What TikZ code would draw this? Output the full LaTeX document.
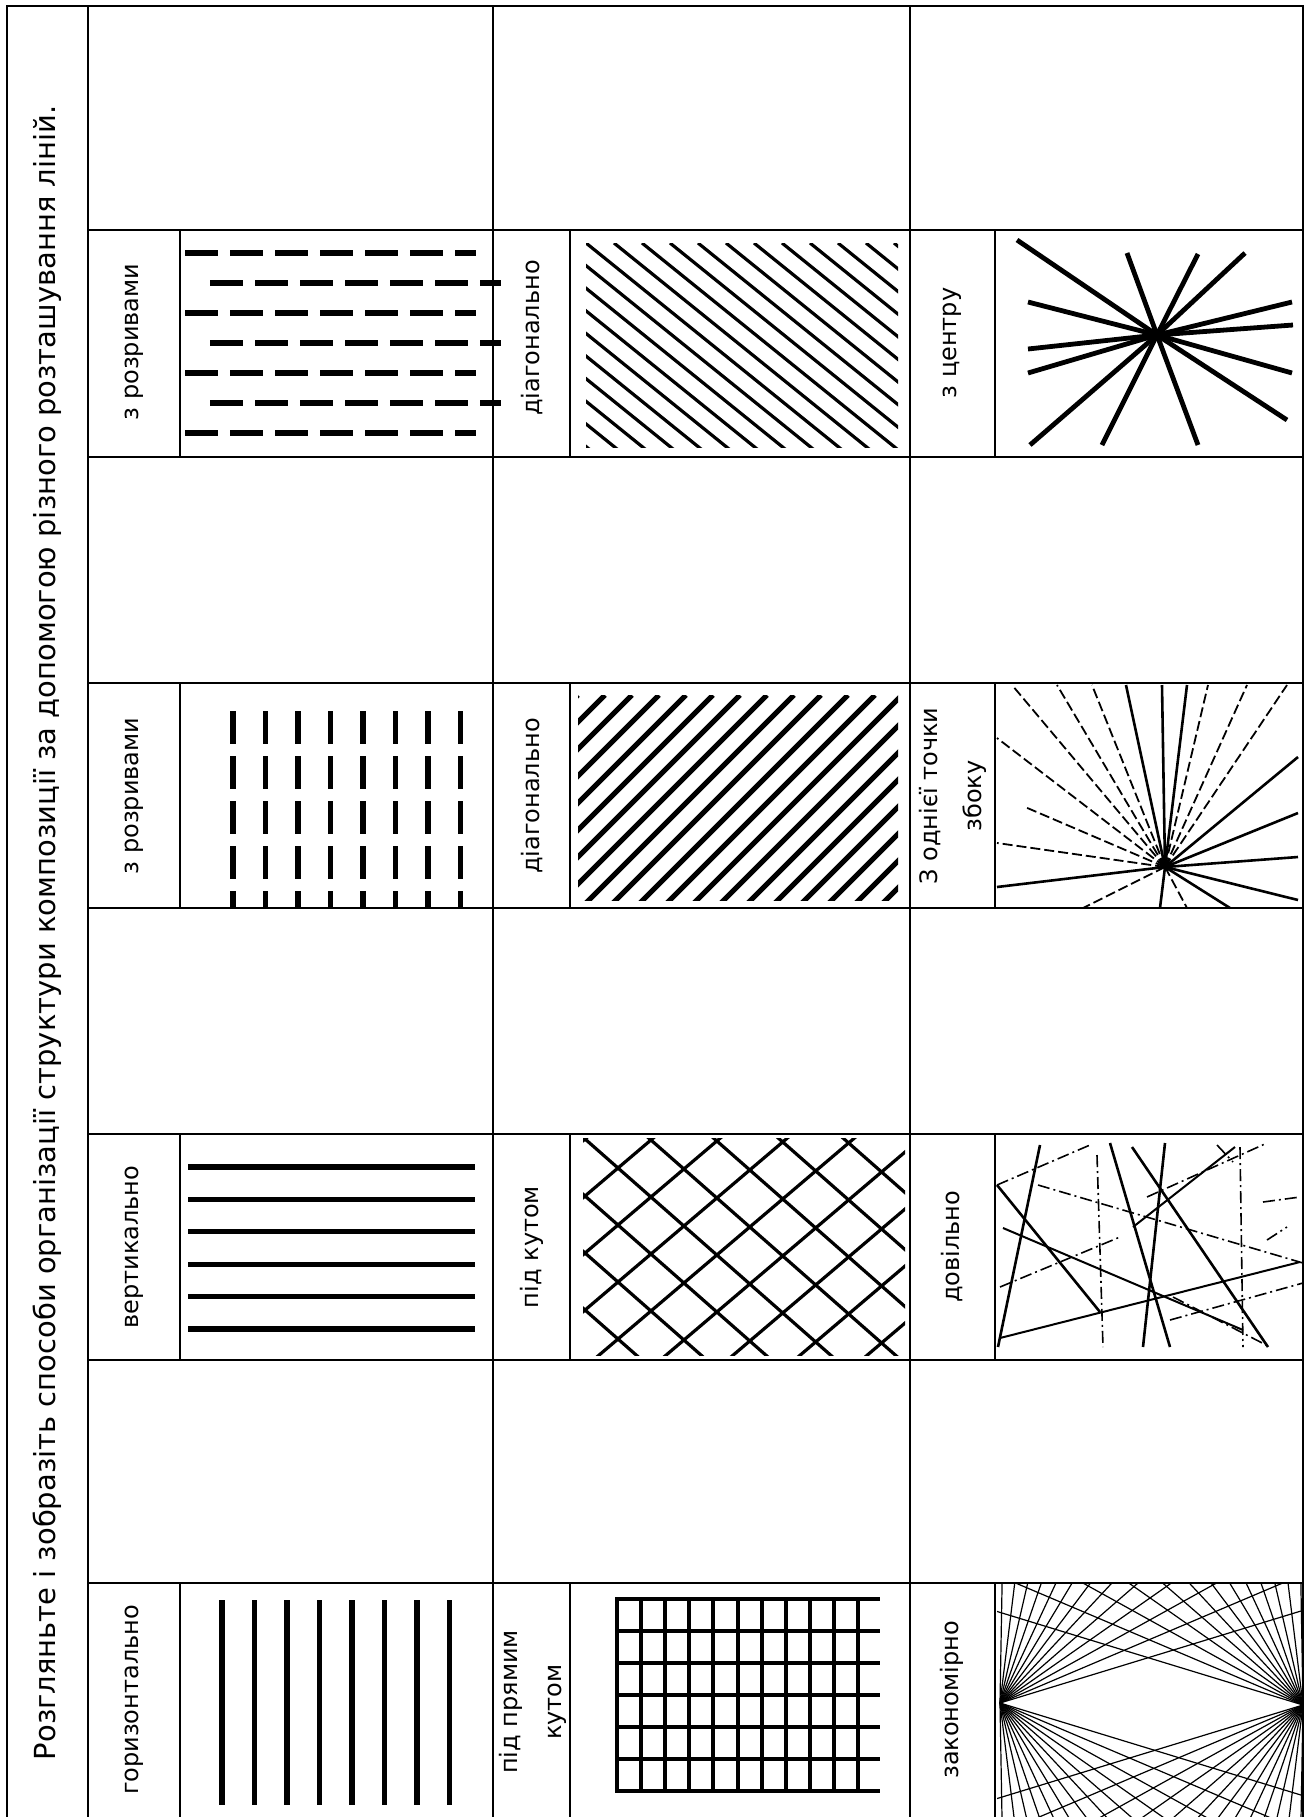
\documentclass[tikz,border=0pt]{standalone}
\usepackage{fontspec}
\setmainfont{DejaVu Sans}
\usetikzlibrary{positioning}
\tikzset{
  frame/.style={draw=black, line width=1.1pt},
  lbl/.style={rotate=90, align=center, inner sep=0pt, font=\fontsize{12}{22}\selectfont},
  ttl/.style={rotate=90, inner sep=0pt, font=\fontsize{14.5}{17}\selectfont},
  % візерунки
  bar/.style={draw=black, line width=2.6pt},
  dashbar/.style={draw=black, line width=2.8pt, dash pattern=on 16.5pt off 6pt},
  mesh/.style={draw=black, line width=2pt},
  hatch/.style={draw=black, line width=1.6pt},
  ray/.style={draw=black, line width=2.4pt},
  fan/.style={draw=black, line width=0.6pt},
  solidray/.style={draw=black, line width=1.3pt},
  brokenray/.style={draw=black, line width=0.9pt, dash pattern=on 5pt off 2pt},
  loose/.style={draw=black, line width=0.8pt, dash pattern=on 6pt off 2pt on 1pt off 2pt}
}
\begin{document}
\begin{tikzpicture}[x=0.5pt, y=-0.5pt, line cap=butt]
  \useasboundingbox (0,0) rectangle (1306,1817);

  % рамка таблиці
  \draw[frame] (7,1817) -- (7,6) -- (1303,6) -- (1303,1817);
  \foreach \x in {88,493,910} \draw[frame] (\x,6) -- (\x,1817);
  \foreach \y in {230,457,683,908,1134,1360,1583} \draw[frame] (88,\y) -- (1303,\y);
  \foreach \ya/\yb in {230/457,683/908,1134/1360,1583/1817}
    \foreach \x in {180,570,995} \draw[frame] (\x,\ya) -- (\x,\yb);

  \node[ttl] (title) at (47,933) {Розгляньте і зобразіть способи організації структури композиції за допомогою різного розташування ліній.};

  % підписи
  \node[lbl] (hor) at (134,1700) {горизонтально};
  \node[lbl] (vert) at (134,1247) {вертикально};
  \node[lbl] (gapv) at (134,796) {з розривами};
  \node[lbl] (gaph) at (134,342) {з розривами};
  \node[lbl] (rightang) at (533,1702) {під прямим\\кутом};
  \node[lbl] (angled) at (532,1247) {під кутом};
  \node[lbl] (diagb) at (532,796) {діагонально};
  \node[lbl] (diaga) at (532,338) {діагонально};
  \node[lbl] (regular) at (952,1700) {закономірно};
  \node[lbl] (random) at (952,1247) {довільно};
  \node[lbl] (side) at (953,796) {З однієї точки\\збоку};
  \node[lbl] (centre) at (952,343) {з центру};

  % горизонтально / вертикально
  \foreach \i in {0,...,7} \draw[bar] ({222+32.5*\i},1600) -- ++(0,205);
  \foreach \i in {0,...,5} \draw[bar] (188,{1167+32.4*\i}) -- (475,{1167+32.4*\i});

  % з розривами
  \begin{scope}
    \clip (180,683) rectangle (493,908);
    \foreach \i in {0,...,7} \draw[dashbar] ({233+32.5*\i},711) -- ++(0,200);
  \end{scope}
  \foreach \i/\xs in {0/185,1/210,2/185,3/210,4/185,5/210,6/185}
    \draw[dashbar] (\xs,{253+30*\i}) -- ++(291,0);

  % під прямим кутом
  \foreach \i in {0,...,10} \draw[mesh] ({617+24.1*\i},1599) -- ++(0,192);
  \foreach \i in {0,...,6} \draw[mesh] (615,{1599+32*\i}) -- (880,{1599+32*\i});

  % під кутом
  \begin{scope}
    \clip (583,1138) rectangle (905,1355);
    \foreach \k in {-6,...,8} {
      \draw[hatch] (560,{1168+0.85*58+57*\k}) -- (920,{1168-0.85*302+57*\k});
      \draw[hatch] (560,{1168-0.88*58+57*\k}) -- (920,{1168+0.88*302+57*\k});
    }
  \end{scope}

  % діагонально
  \begin{scope}
    \clip (586,243) rectangle (898,447);
    \foreach \k in {-10,...,14} \draw[hatch] ({586+28*\k},243) -- ++(260,210);
  \end{scope}
  \begin{scope}
    \clip (578,695) rectangle (898,900);
    \foreach \k in {0,...,21} \draw[bar] ({578+27*\k},695) -- ++(-230,230);
  \end{scope}

  % закономірно
  \coordinate (L) at (1000,1703);
  \coordinate (R) at (1303,1705);
  \begin{scope}
    \clip (997,1583) rectangle (1303,1817);
    \foreach \a in {17,23,...,89} {
      \draw[fan] (L) -- ++({400*cos(\a)},{-400*sin(\a)});
      \draw[fan] (L) -- ++({400*cos(\a)},{400*sin(\a)});
      \draw[fan] (R) -- ++({-400*cos(\a)},{-400*sin(\a)});
      \draw[fan] (R) -- ++({-400*cos(\a)},{400*sin(\a)});
    }
  \end{scope}

  % довільно
  \foreach \xa/\ya/\xb/\yb in {997/1185/1100/1312, 1040/1145/998/1347,
      1110/1143/1170/1347, 1165/1143/1143/1347, 1132/1147/1268/1347}
    \draw[solidray] (\xa,\ya) -- (\xb,\yb);
  \foreach \xa/\ya/\xb/\yb in {1000/1338/1300/1262, 1003/1228/1243/1330,
      1133/1227/1235/1147}
    \draw[draw=black, line width=1pt] (\xa,\ya) -- (\xb,\yb);
  \foreach \xa/\ya/\xb/\yb in {1240/1147/1243/1347, 1097/1155/1103/1347,
      997/1185/1090/1145, 1038/1185/1303/1263, 1000/1287/1120/1237,
      1147/1197/1267/1143, 1263/1202/1300/1197, 1267/1240/1287/1227,
      1170/1320/1303/1283, 1173/1297/1270/1347, 1217/1145/1233/1162}
    \draw[loose] (\xa,\ya) -- (\xb,\yb);

  % з однієї точки збоку
  \coordinate (F) at (1165,867);
  \foreach \x/\y in {1126/685, 1162/685, 1187/685, 1298/757, 1298/813,
      1298/857, 1298/900, 997/887, 1230/908, 1160/908}
    \draw[solidray] (F) -- (\x,\y);
  \foreach \x/\y in {1012/685, 1057/685, 1092/685, 1208/685, 1247/685,
      1287/685, 997/738, 997/843, 1083/908, 1187/908}
    \draw[brokenray] (F) -- (\x,\y);
  \draw[brokenray] (F) -- (1025,807);

  % з центру
  \coordinate (C) at (1157,335);
  \foreach \x/\y in {1017/240, 1287/420, 1127/253, 1198/445, 1198/254,
      1102/445, 1245/253, 1030/445, 1028/302, 1292/373, 1028/349,
      1293/325, 1028/373, 1292/302}
    \draw[ray] (C) -- (\x,\y);
\end{tikzpicture}
\end{document}
